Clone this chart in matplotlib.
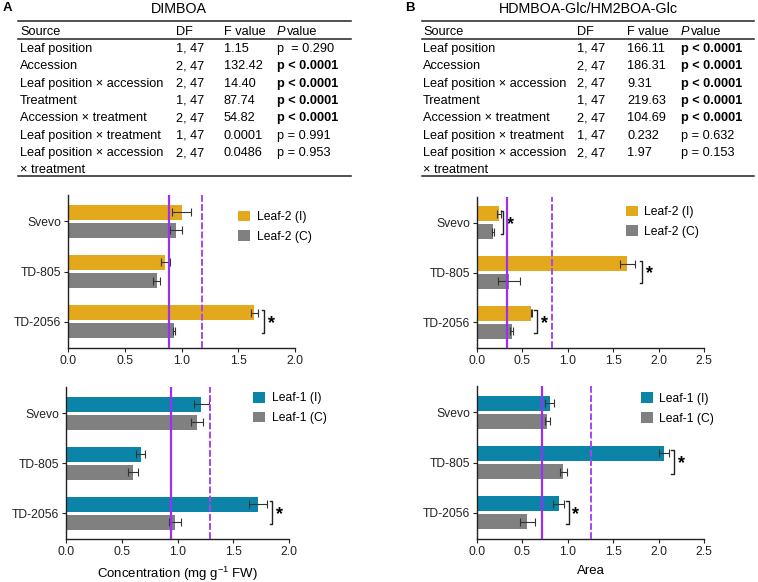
import matplotlib
matplotlib.use("Agg")
import matplotlib.pyplot as plt
import numpy as np

plt.rcParams['font.family'] = ['Liberation Sans', 'DejaVu Sans']
plt.rcParams['mathtext.fontset'] = 'custom'
plt.rcParams['mathtext.rm'] = 'Liberation Sans'
plt.rcParams['mathtext.it'] = 'Liberation Sans:italic'
plt.rcParams['mathtext.bf'] = 'Liberation Sans:bold'

W, H = 758, 582

# ---------------- data ----------------
accessions = ["Svevo", "TD-805", "TD-2056"]

table_sources = ["Leaf position", "Accession", "Leaf position \u00d7 accession", "Treatment",
                 "Accession \u00d7 treatment", "Leaf position \u00d7 treatment",
                 "Leaf position \u00d7 accession"]
table_df = ["1, 47", "2, 47", "2, 47", "1, 47", "2, 47", "1, 47", "2, 47"]

A_F = ["1.15", "132.42", "14.40", "87.74", "54.82", "0.0001", "0.0486"]
A_P = ["p  = 0.290", "p < 0.0001", "p < 0.0001", "p < 0.0001", "p < 0.0001", "p = 0.991", "p = 0.953"]
A_bold = [False, True, True, True, True, False, False]

B_F = ["166.11", "186.31", "9.31", "219.63", "104.69", "0.232", "1.97"]
B_P = ["p < 0.0001", "p < 0.0001", "p < 0.0001", "p < 0.0001", "p < 0.0001", "p = 0.632", "p = 0.153"]
B_bold = [True, True, True, True, True, False, False]

# DIMBOA leaf-2
A2_I = [1.00, 0.855, 1.64]
A2_I_err = [0.08, 0.04, 0.03]
A2_C = [0.95, 0.78, 0.935]
A2_C_err = [0.05, 0.03, 0.01]
A2_lines = [0.89, 1.18]
A2_sig = [2]
A2_brk = [1.73]

# DIMBOA leaf-1
A1_I = [1.215, 0.67, 1.72]
A1_I_err = [0.065, 0.04, 0.08]
A1_C = [1.175, 0.60, 0.98]
A1_C_err = [0.055, 0.045, 0.055]
A1_lines = [0.94, 1.29]
A1_sig = [2]
A1_brk = [1.85]

# HDMBOA-Glc leaf-2
B2_I = [0.24, 1.655, 0.60]
B2_I_err = [0.02, 0.08, 0.01]
B2_C = [0.18, 0.35, 0.38]
B2_C_err = [0.01, 0.12, 0.02]
B2_lines = [0.33, 0.83]
B2_sig = [0, 1, 2]
B2_brk = [0.29, 1.82, 0.66]

# HDMBOA-Glc leaf-1
B1_I = [0.80, 2.06, 0.90]
B1_I_err = [0.05, 0.06, 0.06]
B1_C = [0.775, 0.95, 0.555]
B1_C_err = [0.03, 0.04, 0.08]
B1_lines = [0.72, 1.26]
B1_sig = [1, 2]
B1_brk = [2.17, 1.01]

YELLOW = "#E3A81C"
BLUE = "#0C84A8"
GRAY = "#808080"
PURPLE = "#9B30F5"
PURPLE2 = "#A845F5"

fig = plt.figure(figsize=(W / 100, H / 100), dpi=100)

def fx(x):
    return x / W

def fy(y):
    return 1 - y / H

FS = 9.2      # table text
TFS = 8.7     # tick / legend text

def text(x, y, s, **kw):
    kw.setdefault("fontsize", FS)
    kw.setdefault("va", "baseline")
    fig.text(fx(x), fy(y + 4.2), s, **kw)

def hline(x0, x1, y, lw=1.0):
    fig.add_artist(plt.Line2D([fx(x0), fx(x1)], [fy(y), fy(y)], color="#222222", lw=lw,
                              transform=fig.transFigure))

def table(x0, x1, cols, title, title_x, F, P, bold):
    text(title_x, 8.5, title, ha="center", fontsize=10.3)
    hline(x0, x1, 21, 1.1)
    hline(x0, x1, 38.5, 1.1)
    hline(x0, x1, 176, 1.1)
    yh = 30.5
    text(cols[0], yh, "Source")
    text(cols[1], yh, "DF")
    text(cols[2], yh, "F value")
    text(cols[3], yh, "P", style="italic")
    text(cols[3] + 9.5, yh, "value")
    rows_y = [47.5, 65, 82.5, 99.5, 117, 134.5, 152]
    for i, y in enumerate(rows_y):
        text(cols[0], y, table_sources[i])
        text(cols[1], y, table_df[i])
        text(cols[2], y, F[i])
        text(cols[3], y, P[i], fontweight="bold" if bold[i] else "normal")
    text(cols[0], 168.5, "\u00d7 treatment")

table(18, 351, [20, 176, 224, 277], "DIMBOA", 179, A_F, A_P, A_bold)
table(422, 754, [423, 577, 627, 681], "HDMBOA-Glc/HM2BOA-Glc", 588, B_F, B_P, B_bold)
text(3, 6.5, "A", fontweight="bold", fontsize=9.5)
text(405, 6.5, "B", fontweight="bold", fontsize=9.5)


def panel(rect, I, Ierr, C, Cerr, lines, sig, brk, color, leaf, xmax, xticks, leg_xy,
          xlabel=None):
    l, t, r, b = rect
    ax = fig.add_axes([fx(l), fy(b), fx(r) - fx(l), fy(t) - fy(b)])
    y = np.arange(len(accessions))
    off = 0.18
    h = 0.30
    ekw = dict(ecolor="#333333", elinewidth=0.8, capthick=0.8)
    ax.barh(y - off, I, height=h, color=color, label=f"{leaf} (I)", zorder=2)
    ax.barh(y + off, C, height=h, color=GRAY, label=f"{leaf} (C)", zorder=2)
    ax.errorbar(I, y - off, xerr=Ierr, fmt="none", capsize=3, zorder=3, **ekw)
    ax.errorbar(C, y + off, xerr=Cerr, fmt="none", capsize=3, zorder=3, **ekw)
    ax.axvline(lines[0], color=PURPLE, lw=1.6, zorder=4)
    ax.axvline(lines[1], color=PURPLE2, lw=1.4, ls=(0, (3.5, 1.2)), zorder=4)
    ax.set_xlim(0, xmax)
    ax.set_ylim(2.52, -0.52)
    ax.set_yticks(y)
    ax.set_yticklabels(accessions, fontsize=TFS)
    ax.set_xticks(xticks)
    ax.set_xticklabels([f"{v:.1f}" for v in xticks], fontsize=TFS)
    for s in ["top", "right"]:
        ax.spines[s].set_visible(False)
    for s in ["left", "bottom"]:
        ax.spines[s].set_linewidth(1.0)
        ax.spines[s].set_color("#222222")
    ax.tick_params(length=3, width=0.8, pad=2, colors="#222222")
    # significance brackets
    dx = xmax * 0.012
    for g, xr in zip(sig, brk):
        y0, y1 = g - 0.24, g + 0.22
        ax.plot([xr - dx, xr, xr, xr - dx], [y0, y0, y1, y1], color="#222222", lw=1.0,
                clip_on=False, zorder=5)
        ax.text(xr + xmax * 0.016, g + 0.03, "*", fontsize=13, ha="left", va="center",
                fontweight="bold")
    ax.legend(loc="upper left", bbox_to_anchor=leg_xy, frameon=False,
              fontsize=TFS, handlelength=1.0, handleheight=1.0, handletextpad=0.55,
              labelspacing=0.6, borderaxespad=0)
    if xlabel:
        ax.set_xlabel(xlabel, fontsize=9.5, labelpad=5)
    return ax

panel((68, 195, 295, 348), A2_I, A2_I_err, A2_C, A2_C_err, A2_lines, A2_sig, A2_brk, YELLOW,
      "Leaf-2", 2.0, [0.0, 0.5, 1.0, 1.5, 2.0], (0.727, 0.93))
panel((66, 387, 289, 539), A1_I, A1_I_err, A1_C, A1_C_err, A1_lines, A1_sig, A1_brk, BLUE,
      "Leaf-1", 2.0, [0.0, 0.5, 1.0, 1.5, 2.0], (0.816, 1.0),
      xlabel="Concentration (mg g$^{-1}$ FW)")
panel((477, 197, 704, 348), B2_I, B2_I_err, B2_C, B2_C_err, B2_lines, B2_sig, B2_brk, YELLOW,
      "Leaf-2", 2.5, [0.0, 0.5, 1.0, 1.5, 2.0, 2.5], (0.633, 0.975))
panel((477, 386, 704, 539), B1_I, B1_I_err, B1_C, B1_C_err, B1_lines, B1_sig, B1_brk, BLUE,
      "Leaf-1", 2.5, [0.0, 0.5, 1.0, 1.5, 2.0, 2.5], (0.70, 0.99), xlabel="Area")

fig.savefig("out.png", dpi=100)
